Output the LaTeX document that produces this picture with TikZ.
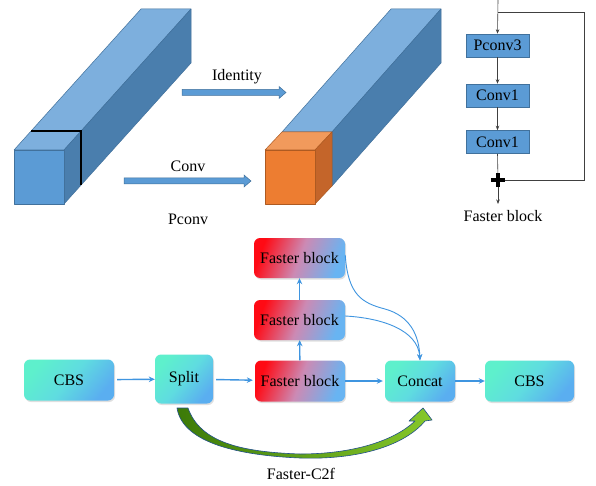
\documentclass[tikz,border=0pt]{standalone}
\usepackage{fontspec}
\setmainfont{Liberation Serif}
\usetikzlibrary{arrows.meta,shadows}
\definecolor{pfront}{HTML}{5B9BD5}
\definecolor{ptop}{HTML}{7DAFDD}
\definecolor{pside}{HTML}{4A7EAD}
\definecolor{pedge}{HTML}{41719C}
\definecolor{ofront}{HTML}{ED7D31}
\definecolor{otop}{HTML}{F19A5C}
\definecolor{oside}{HTML}{C4652A}
\definecolor{oedge}{HTML}{AE5A21}
\definecolor{mintc}{HTML}{5EF0CC}
\definecolor{midc}{HTML}{5FDCE0}
\definecolor{bluec}{HTML}{5AAEF0}
\definecolor{redc}{HTML}{FF0A14}
\definecolor{pinkc}{HTML}{CC8AB4}
\definecolor{lbluec}{HTML}{68B4F2}
\definecolor{conn}{HTML}{3F95E0}
\definecolor{gdark}{HTML}{3C7A08}
\definecolor{glight}{HTML}{86C82A}
\definecolor{gedge}{HTML}{22508A}
\tikzset{
  txt/.style={font=\fontsize{16}{19}\selectfont, inner sep=0pt},
  cbox/.style={txt, rounded corners=6pt, top color=mintc, bottom color=bluec, middle color=midc, shading angle=50,
    drop shadow={opacity=0.25, shadow xshift=1pt, shadow yshift=-1.5pt}},
  fbox/.style={txt, rounded corners=6pt, top color=redc, bottom color=lbluec, middle color=pinkc, shading angle=70,
    drop shadow={opacity=0.25, shadow xshift=1pt, shadow yshift=-1.5pt}},
  sbox/.style={txt, fill=pfront, draw=pedge, line width=0.6pt, minimum width=63pt, minimum height=23pt},
  barrow/.style={draw=conn, line width=1.4pt, -{Stealth[length=6pt,width=5.5pt]}},
  carrow/.style={draw=conn, line width=0.9pt, -{Stealth[length=6pt,width=5pt]}},
  karrow/.style={draw=black!75, line width=0.6pt, -{Stealth[length=4.5pt,width=3.5pt]}},
  kline/.style={draw=black!75, line width=0.6pt},
  blockarrow/.style={fill=pfront, draw=pedge, line width=0.5pt},
  faceedge/.style={draw=pedge, line width=0.5pt, line join=round},
  ofaceedge/.style={draw=oedge, line width=0.5pt, line join=round}
}
\begin{document}
\begin{tikzpicture}[x=1pt,y=-1pt]
\useasboundingbox (0,0) rectangle (596,486);
\fill[white] (0,0) rectangle (596,486);

% ---------- left prism ----------
\fill[ptop, faceedge] (14,150) -- (64,150) -- (191,9) -- (141,9) -- cycle;
\fill[pside, faceedge] (64,150) -- (191,9) -- (191,63) -- (64,204) -- cycle;
\fill[pfront, faceedge] (14,150) rectangle (64,204);
\draw[black, line width=1.6pt] (31,131) -- (81,131) -- (81,185);

% ---------- right prism ----------
\fill[ptop, faceedge] (282,132) -- (332,132) -- (441,9) -- (391,9) -- cycle;
\fill[pside, faceedge] (332,132) -- (441,9) -- (441,63) -- (332,186) -- cycle;
\fill[otop, ofaceedge] (265,150) -- (315,150) -- (332,132) -- (282,132) -- cycle;
\fill[oside, ofaceedge] (315,150) -- (332,132) -- (332,186) -- (315,204) -- cycle;
\fill[ofront, ofaceedge] (265,150) rectangle (315,204);

% ---------- block arrows ----------
\coordinate (idS) at (182,92.5);
\coordinate (cvS) at (124,181);
\path[blockarrow] (idS) ++(0,-3) -- ++(97,0) -- ++(0,-3) -- ++(7,6) -- ++(-7,6) -- ++(0,-3) -- ++(-97,0) -- cycle;
\path[blockarrow] (cvS) ++(0,-3) -- ++(120,0) -- ++(0,-3) -- ++(7,6) -- ++(-7,6) -- ++(0,-3) -- ++(-120,0) -- cycle;
\node[txt] (lid) at (237,77) {Identity};
\node[txt] (lcv) at (188,166) {Conv};
\node[txt] (lpc) at (188,219) {Pconv};

% ---------- faster block detail ----------
\coordinate (ftop) at (498,0);
\coordinate (fbr) at (498,12);
\coordinate (fr1) at (584,12);
\coordinate (fr2) at (584,180);
\coordinate (fout) at (498,204);
\node[sbox] (pc3) at (497.5,45.5) {Pconv3};
\node[sbox] (c1a) at (497.5,95.5) {Conv1};
\node[sbox] (c1b) at (497.5,142) {Conv1};
\node[inner sep=0pt, minimum size=14pt] (plus) at (498,180) {};
\draw[karrow] (ftop) -- (pc3.north);
\draw[karrow] (pc3) -- (c1a);
\draw[karrow] (c1a) -- (c1b);
\draw[kline] (c1b.south) -- (plus.center);
\draw[kline] (fbr) -- (fr1) -- (fr2) -- (plus.center);
\draw[karrow] (plus.center) -- (fout);
\draw[black, line width=4pt] (plus.west) -- (plus.east);
\draw[black, line width=4pt] (plus.north) -- (plus.south);
\node[txt] (lfb) at (503,216) {Faster block};

% ---------- Faster-C2f ----------
\node[cbox, minimum width=90pt, minimum height=41pt] (cbs1) at (69,380) {CBS};
\node[cbox, minimum width=58pt, minimum height=49pt] (split) at (184,379) {Split};
\node[fbox, minimum width=90pt, minimum height=41pt] (fb1) at (300,381) {Faster block};
\node[fbox, minimum width=91pt, minimum height=40pt] (fb2) at (299.5,320) {Faster block};
\node[fbox, minimum width=91pt, minimum height=40pt] (fb3) at (299.5,258) {Faster block};
\node[cbox, minimum width=70pt, minimum height=41pt] (concat) at (420,381) {Concat};
\node[cbox, minimum width=89pt, minimum height=41pt] (cbs2) at (529.5,381) {CBS};

\draw[barrow, shorten <=3pt] (cbs1) -- (split);
\draw[barrow, shorten <=3pt, shorten >=2pt] (split) -- (fb1);
\draw[barrow, shorten >=2pt] (fb1) -- (concat);
\draw[barrow] (concat) -- (cbs2);
\draw[barrow] (fb1) -- (fb2);
\draw[barrow] (fb2) -- (fb3);
\draw[carrow] (fb3.east) ++(0,-3) .. controls (348,295) and (362,303) .. (385,309) .. controls (410,316) and (419,335) .. (concat.north);
\draw[carrow] (fb2.east) ++(0,-4) .. controls (382,318) and (418,330) .. (concat.north);

% green curved arrow
\shade[left color=gdark, right color=glight, draw=gedge, line width=0.6pt, line join=round]
  (177,408) .. controls (182,440) and (230,455) .. (300,458)
  .. controls (360,460) and (405,445) .. (425,421)
  -- (432,420) -- (423,408) -- (409,421) -- (415,421)
  .. controls (395,440) and (355,454) .. (300,454)
  .. controls (240,452) and (200,442) .. (188,408) -- cycle;
\node[txt] (lc2f) at (301,474) {Faster-C2f};
\end{tikzpicture}
\end{document}
